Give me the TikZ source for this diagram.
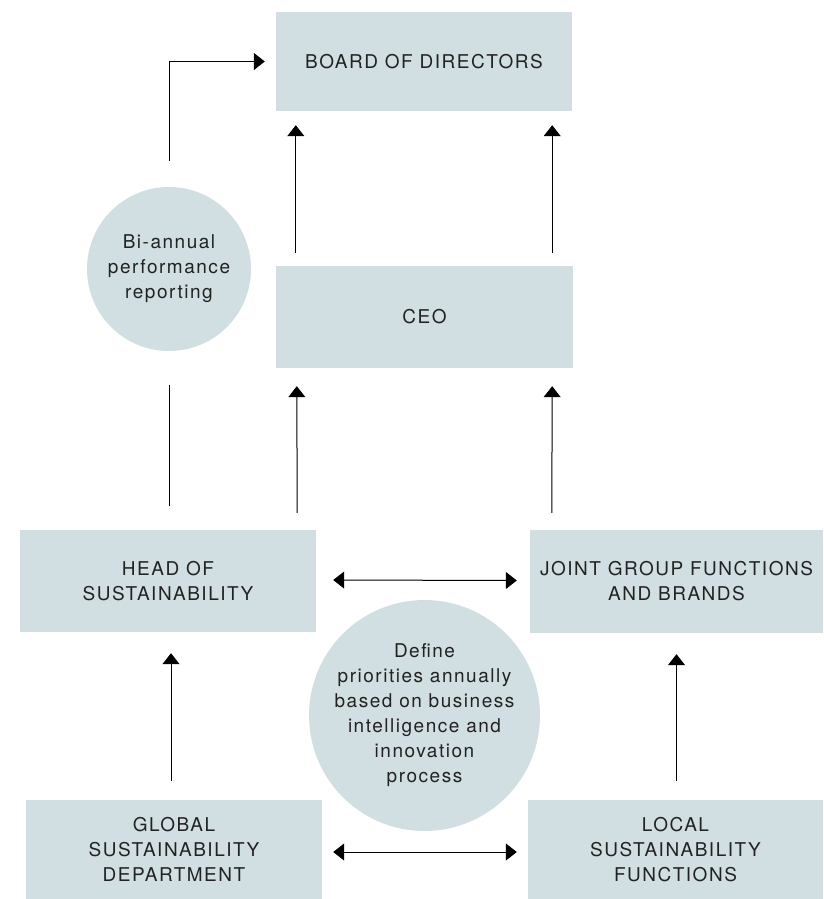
\documentclass[tikz,border=0pt]{standalone}
\usepackage{fontspec}
\setmainfont{TeX Gyre Heros}[LetterSpace=8]
\usetikzlibrary{calc, arrows.meta}
\definecolor{boxfill}{HTML}{D1DFE2}
\definecolor{inkgray}{HTML}{222222}

\begin{document}
\begin{tikzpicture}
    [x=1pt, y=-1pt,
     every node/.style={font=\fontsize{19}{25}\selectfont, text=inkgray, align=center},
     unit/.style={fill=boxfill, inner sep=0pt},
     bubble/.style={circle, fill=boxfill, inner sep=0pt},
     flow/.style={-{Triangle[length=11pt, width=17pt]}, line width=1pt},
     both/.style={{Triangle[length=11pt, width=17pt]}-{Triangle[length=11pt, width=17pt]}, line width=1pt},
     plain/.style={line width=1pt}]

    \useasboundingbox (0,0) rectangle (823,899);

    % boxes
    \node[unit, minimum width=296pt, minimum height=99pt] (board) at (424,61.5) {BOARD OF DIRECTORS};
    \node[unit, minimum width=297pt, minimum height=102pt] (ceo) at (424.5,317) {CEO};
    \node[unit, minimum width=296pt, minimum height=102pt] (head) at (168,581) {HEAD OF\\SUSTAINABILITY};
    \node[unit, minimum width=293pt, minimum height=103pt] (joint) at (676.5,581.5) {JOINT GROUP FUNCTIONS\\AND BRANDS};
    \node[unit, minimum width=296pt, minimum height=99pt] (global) at (174,849.5) {GLOBAL\\SUSTAINABILITY\\DEPARTMENT};
    \node[unit, minimum width=295pt, minimum height=99pt] (local) at (675.5,849.5) {LOCAL\\SUSTAINABILITY\\FUNCTIONS};

    % circles
    \node[bubble, minimum size=164pt] (report) at (169,269) {Bi-annual\\performance\\reporting};
    \node[bubble, minimum size=231pt] (define) at (424.5,715.5) {Define\\priorities annually\\based on business\\intelligence and\\innovation\\process};

    % reporting lines
    \draw[flow] ($(report.north)+(0,-26)$) |- ($(board.west)+(-11,0)$);
    \draw[plain] ($(report.south)+(0,34)$) -- ($(report.south)+(0,155)$);

    \draw[flow] ($(ceo.north west)+(20,-13)$) -- ($(board.south west)+(20,14)$);
    \draw[flow] ($(ceo.north east)+(-21,-13)$) -- ($(board.south east)+(-20,14)$);

    \draw[flow] ($(head.north east)+(-19,-17)$) -- ($(ceo.south west)+(21,18)$);
    \draw[flow] ($(joint.north west)+(22,-17)$) -- ($(ceo.south east)+(-21,18)$);

    \draw[both] ($(head.east)+(17,-1)$) -- ($(joint.west)+(-13,-1)$);
    \draw[both] ($(global.east)+(11,2.5)$) -- ($(local.west)+(-11,2.5)$);

    \draw[flow] ($(global.north -| head.south)+(3,-19)$) -- ($(head.south)+(3,21)$);
    \draw[flow] ($(local.north -| joint.south)+(0,-19)$) -- ($(joint.south)+(0,21)$);

\end{tikzpicture}
\end{document}
